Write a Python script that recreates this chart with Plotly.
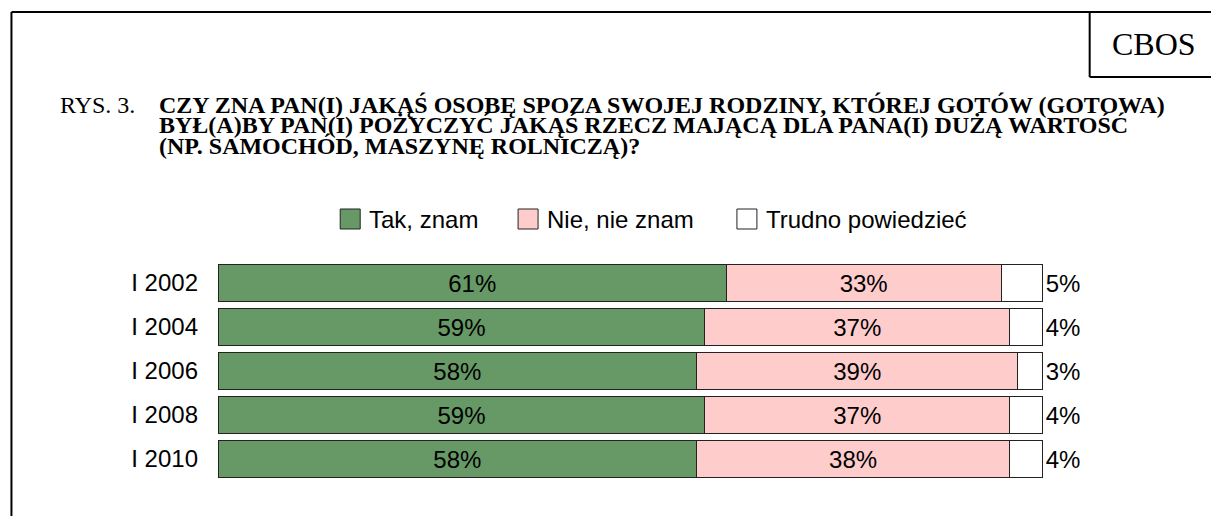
import plotly.graph_objects as go

categories = ["I 2002", "I 2004", "I 2006", "I 2008", "I 2010"]
series_names = ["Tak, znam", "Nie, nie znam", "Trudno powiedzieć"]
tak = [61, 59, 58, 59, 58]
nie = [33, 37, 39, 37, 38]
trudno = [5, 4, 3, 4, 4]
title_prefix = "RYS. 3."
title_lines = [
    "CZY ZNA PAN(I) JAKĄŚ OSOBĘ SPOZA SWOJEJ RODZINY, KTÓREJ GOTÓW (GOTOWA)",
    "BYŁ(A)BY PAN(I) POŻYCZYĆ JAKĄŚ RZECZ MAJĄCĄ DLA PANA(I) DUŻĄ WARTOŚĆ",
    "(NP. SAMOCHÓD, MASZYNĘ ROLNICZĄ)?",
]
source_label = "CBOS"

colors = ["#669966", "#FFCCCC", "#FFFFFF"]

W, H = 1211, 516
# pixel span of 0..100 % on the page
X0PX, X100PX = 218, 1043
EXT = 0.4  # small range extension so bar outlines are not clipped
unit = (X100PX - X0PX) / 100.0
L = X0PX - EXT * unit
R = X100PX + EXT * unit
T, B = 261, 481


def px(x):
    return (x - L) / (R - L)


def py(y):
    return (B - y) / (B - T)


SANS = "Liberation Sans, Arial, sans-serif"
SERIF = "Liberation Serif, Times New Roman, serif"
FS = 24

fig = go.Figure()
for i, (name, vals) in enumerate(zip(series_names, [tak, nie, trudno])):
    fig.add_trace(go.Bar(
        y=categories,
        x=vals,
        name=name,
        orientation="h",
        marker=dict(color=colors[i], line=dict(color="#222222", width=1)),
        text=[f"{v}%" for v in vals],
        textposition="outside" if i == 2 else "inside",
        insidetextanchor="middle",
        textfont=dict(family=SANS, size=FS, color="black"),
        constraintext="none",
        cliponaxis=False,
        showlegend=False,
        hoverinfo="skip",
    ))

shapes = []
line = dict(color="black", width=2)
# outer frame
shapes.append(dict(type="line", xref="paper", yref="paper", x0=px(11), x1=px(1230), y0=py(12), y1=py(12), line=line))
shapes.append(dict(type="line", xref="paper", yref="paper", x0=px(11), x1=px(11), y0=py(12), y1=py(540), line=line))
# CBOS box
shapes.append(dict(type="line", xref="paper", yref="paper", x0=px(1090), x1=px(1090), y0=py(12), y1=py(77), line=line))
shapes.append(dict(type="line", xref="paper", yref="paper", x0=px(1090), x1=px(1230), y0=py(77), y1=py(77), line=line))

annotations = []
annotations.append(dict(text=source_label, xref="paper", yref="paper", x=px(1154), y=py(44),
                        xanchor="center", yanchor="middle", showarrow=False,
                        font=dict(family=SERIF, size=32, color="black")))
annotations.append(dict(text=title_prefix, xref="paper", yref="paper", x=px(58), y=py(104.5),
                        xanchor="left", yanchor="middle", showarrow=False,
                        font=dict(family=SERIF, size=FS, color="black")))
# drawn bottom line first so upper lines never cover accents of lower ones
for k in reversed(range(len(title_lines))):
    ln = title_lines[k]
    annotations.append(dict(text=f"<b>{ln}</b>", xref="paper", yref="paper", x=px(157), y=py(104.5 + 20.5 * k),
                            xanchor="left", yanchor="middle", showarrow=False,
                            bgcolor="rgba(0,0,0,0)",
                            font=dict(family=SERIF, size=FS, color="black")))

# legend (manual)
leg_boxes = [340, 518, 737]
for x0, name, c in zip(leg_boxes, series_names, colors):
    shapes.append(dict(type="rect", xref="paper", yref="paper", x0=px(x0), x1=px(x0 + 20),
                       y0=py(209), y1=py(229), fillcolor=c, line=dict(color="#222222", width=1)))
    annotations.append(dict(text=name, xref="paper", yref="paper", x=px(x0 + 27), y=py(219),
                            xanchor="left", yanchor="middle", showarrow=False,
                            font=dict(family=SANS, size=FS, color="black")))

fig.update_layout(
    width=W, height=H,
    margin=dict(l=L, r=W - R, t=T, b=H - B, pad=0),
    barmode="stack",
    barnorm="percent",
    bargap=0.14,
    plot_bgcolor="white",
    paper_bgcolor="white",
    shapes=shapes,
    annotations=annotations,
    xaxis=dict(range=[-EXT, 100 + EXT], visible=False, fixedrange=True),
    yaxis=dict(autorange="reversed", showgrid=False, showline=False, zeroline=False,
               ticks="", ticklabelstandoff=16, fixedrange=True,
               tickfont=dict(family=SANS, size=FS, color="black")),
)

fig.write_html("out.html", config={"displayModeBar": False},
               post_script="document.body.style.margin='0';")
